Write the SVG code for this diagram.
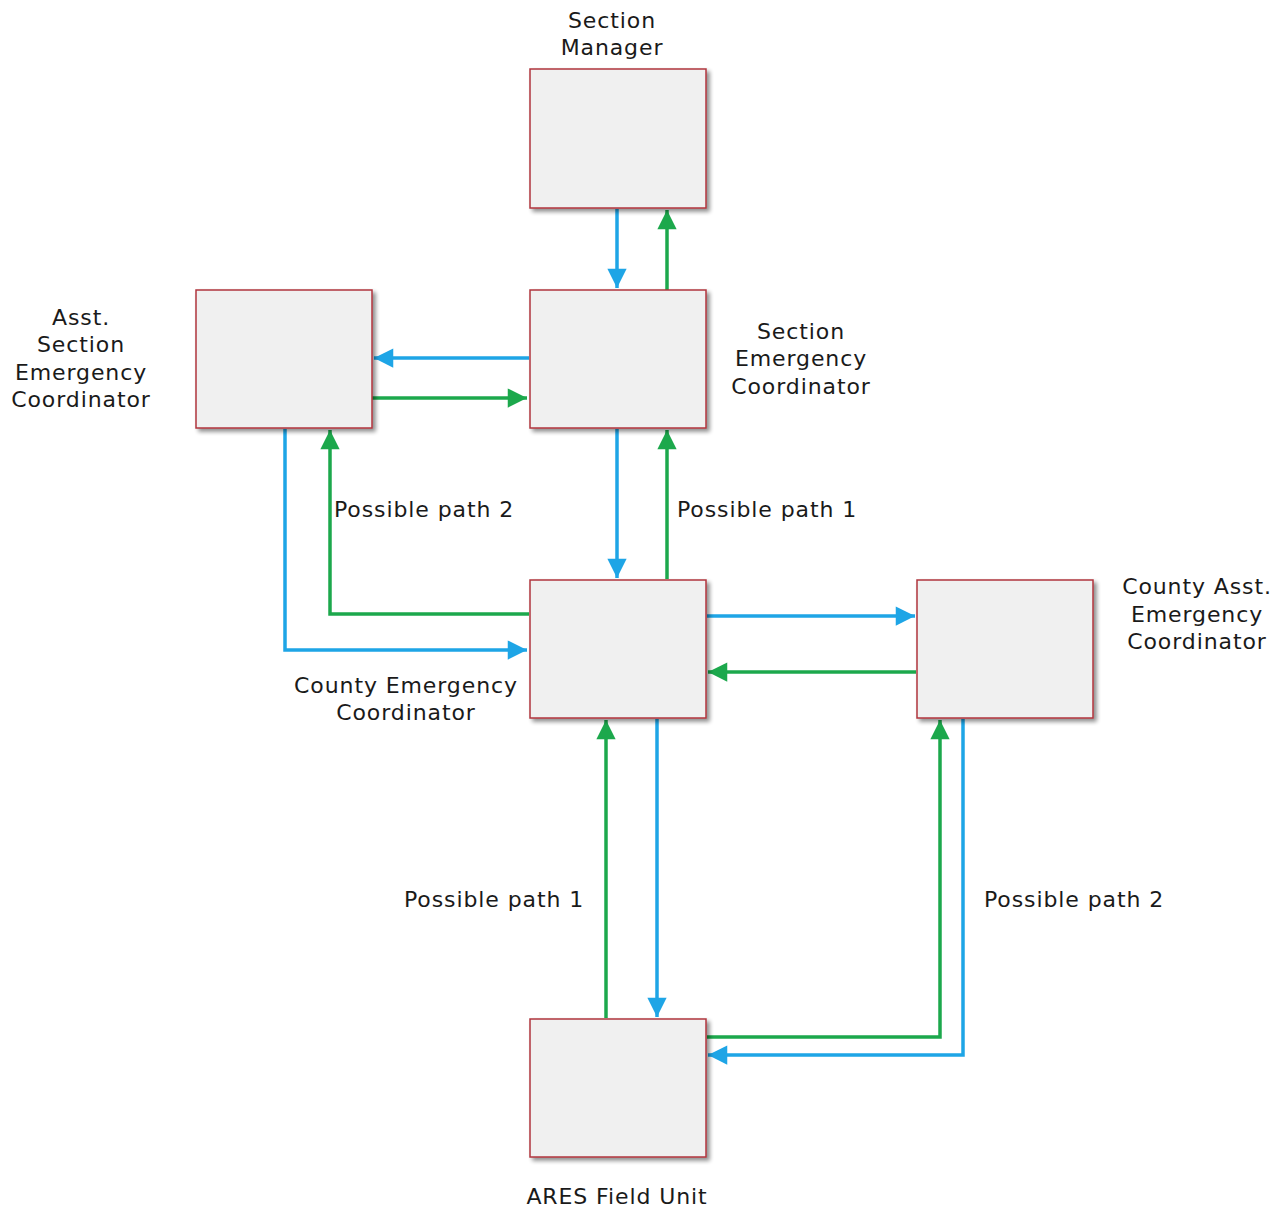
<svg xmlns="http://www.w3.org/2000/svg" width="1286" height="1209" viewBox="0 0 1286 1209">
<style>
.box{fill:#f0f0f0;stroke:#b0353f;stroke-width:1.5;filter:url(#sh)}
.t{font-family:"DejaVu Sans","Open Sans",sans-serif;font-size:22px;letter-spacing:0.9px;fill:#1a1a1a;text-anchor:middle}
.b{fill:none;stroke:#1ea5e6;stroke-width:3.5;marker-end:url(#ab)}
.g{fill:none;stroke:#1ca84c;stroke-width:3.5;marker-end:url(#ag)}
</style>
<defs>
<filter id="sh" x="-10%" y="-10%" width="130%" height="130%">
<feGaussianBlur in="SourceAlpha" stdDeviation="2"/>
<feOffset dx="3" dy="3" result="o"/>
<feComponentTransfer><feFuncA type="linear" slope="0.45"/></feComponentTransfer>
<feMerge><feMergeNode/><feMergeNode in="SourceGraphic"/></feMerge>
</filter>
<marker id="ab" viewBox="0 0 10 10" refX="10" refY="5" markerWidth="6" markerHeight="5.5" markerUnits="strokeWidth" orient="auto"><path d="M0,0 L10,5 L0,10 z" fill="#1ea5e6"/></marker>
<marker id="ag" viewBox="0 0 10 10" refX="10" refY="5" markerWidth="6" markerHeight="5.5" markerUnits="strokeWidth" orient="auto"><path d="M0,0 L10,5 L0,10 z" fill="#1ca84c"/></marker>
</defs>
<rect width="1286" height="1209" fill="#fff"/>
<g id="connectors">
<path class="b" d="M617,209 V288"/>
<path class="g" d="M667,290 V210"/>
<path class="b" d="M529,358 H374"/>
<path class="g" d="M369,398 H527"/>
<path class="b" d="M617,429 V578"/>
<path class="g" d="M667,579 V430"/>
<path class="g" d="M529,614 H330 V430"/>
<path class="b" d="M285,429 V650 H527"/>
<path class="b" d="M707,616 H915"/>
<path class="g" d="M916,672 H708"/>
<path class="g" d="M606,1018 V720"/>
<path class="b" d="M657,719 V1017"/>
<path class="g" d="M707,1037 H940 V720"/>
<path class="b" d="M963,719 V1055 H708"/>
</g>
<g id="section-manager">
<rect class="box" x="530" y="69" width="176" height="139"/>
<text class="t" x="612" y="28">Section</text>
<text class="t" x="612" y="55">Manager</text>
</g>
<g id="section-ec">
<rect class="box" x="530" y="290" width="176" height="138"/>
<text class="t" x="801" y="339">Section</text>
<text class="t" x="801" y="366">Emergency</text>
<text class="t" x="801" y="394">Coordinator</text>
</g>
<g id="asst-section-ec">
<rect class="box" x="196" y="290" width="176" height="138"/>
<text class="t" x="81" y="325">Asst.</text>
<text class="t" x="81" y="352">Section</text>
<text class="t" x="81" y="380">Emergency</text>
<text class="t" x="81" y="407">Coordinator</text>
</g>
<g id="county-ec">
<rect class="box" x="530" y="580" width="176" height="138"/>
<text class="t" x="406" y="693">County Emergency</text>
<text class="t" x="406" y="720">Coordinator</text>
</g>
<g id="county-asst-ec">
<rect class="box" x="917" y="580" width="176" height="138"/>
<text class="t" x="1197" y="594">County Asst.</text>
<text class="t" x="1197" y="622">Emergency</text>
<text class="t" x="1197" y="649">Coordinator</text>
</g>
<g id="ares-field-unit">
<rect class="box" x="530" y="1019" width="176" height="138"/>
<text class="t" x="617" y="1204">ARES Field Unit</text>
</g>
<g id="labels">
<text class="t" x="424" y="517">Possible path 2</text>
<text class="t" x="767" y="517">Possible path 1</text>
<text class="t" x="494" y="907">Possible path 1</text>
<text class="t" x="1074" y="907">Possible path 2</text>
</g>
</svg>
